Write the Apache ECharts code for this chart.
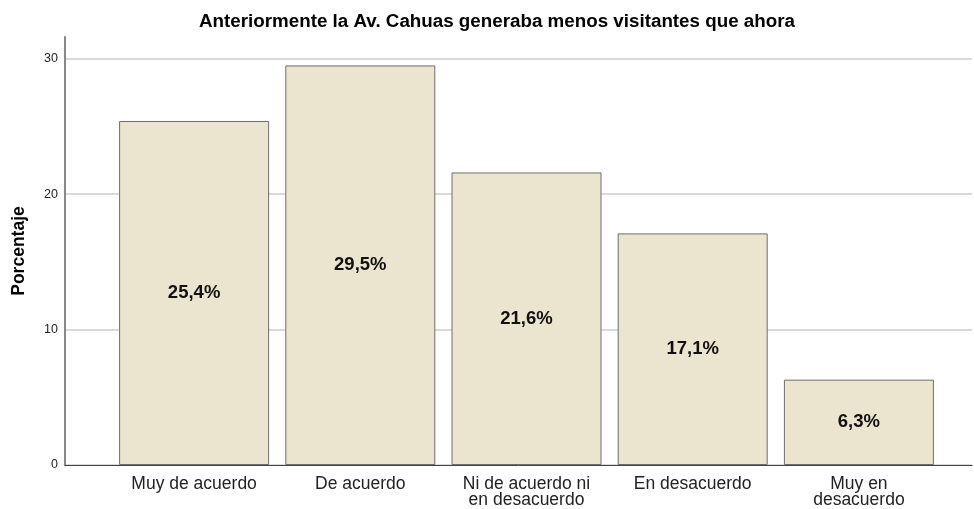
<!DOCTYPE html>
<html><head><meta charset="utf-8">
<script src="https://cdn.jsdelivr.net/npm/echarts@6/dist/echarts.min.js"></script>
<style>html,body{margin:0;padding:0;background:#fff}#c{width:974px;height:509px}</style>
</head><body><div id="c"></div>
<script>
const categories = ['Muy de acuerdo', 'De acuerdo', 'Ni de acuerdo ni\nen desacuerdo', 'En desacuerdo', 'Muy en\ndesacuerdo'];
const values = [25.4, 29.5, 21.6, 17.1, 6.3];
const yTicks = [0, 10, 20, 30];
const titleText = 'Anteriormente la Av. Cahuas generaba menos visitantes que ahora';
const yName = 'Porcentaje';

const FONT = '"Liberation Sans", Arial, sans-serif';
const YMAX = 31.6;
const chart = echarts.init(document.getElementById('c'), null, {renderer: 'canvas'});
chart.setOption({
  animation: false,
  title: {text: titleText, left: 194, top: 7,
    textStyle: {fontFamily: FONT, fontSize: 18.8, fontWeight: 'bold', color: '#000'}},
  grid: [
    {left: 65, right: 2, top: 37, bottom: 44, outerBoundsMode: 'none', containLabel: false},
    {left: 111, right: 32, top: 37, bottom: 44, outerBoundsMode: 'none', containLabel: false}
  ],
  xAxis: [
    {gridIndex: 0, type: 'value', min: 0, max: 1, show: true,
      axisLine: {show: true, onZero: false, lineStyle: {color: '#444', width: 1}},
      axisTick: {show: false}, axisLabel: {show: false}, splitLine: {show: false}},
    {gridIndex: 1, type: 'category', data: categories,
      axisLine: {show: false}, axisTick: {show: false},
      axisLabel: {interval: 0, margin: 11, fontFamily: FONT, fontSize: 17.5, color: '#222', lineHeight: 16}}
  ],
  yAxis: [
    {gridIndex: 0, type: 'value', min: 0, max: YMAX, interval: 10,
      name: yName, nameLocation: 'middle', nameGap: 37,
      nameTextStyle: {fontFamily: FONT, fontSize: 17.5, fontWeight: 'bold', color: '#000'},
      axisLine: {show: true, lineStyle: {color: '#888', width: 2}},
      axisTick: {show: false, customValues: yTicks},
      axisLabel: {fontFamily: FONT, fontSize: 12.5, color: '#222', margin: 7,
        customValues: yTicks},
      splitLine: {show: true, lineStyle: {color: '#d9d9d9', width: 2}}},
    {gridIndex: 1, type: 'value', min: 0, max: YMAX, show: false}
  ],
  series: [{
    type: 'bar', xAxisIndex: 1, yAxisIndex: 1, data: values, barWidth: 150,
    itemStyle: {color: '#ebe4cf', borderColor: '#6e6e6e', borderWidth: 1},
    label: {show: true, position: 'inside', fontFamily: FONT, fontSize: 18.5, fontWeight: 'bold', color: '#111',
      formatter: p => p.value.toFixed(1).replace('.', ',') + '%'}
  }]
});
</script></body></html>
